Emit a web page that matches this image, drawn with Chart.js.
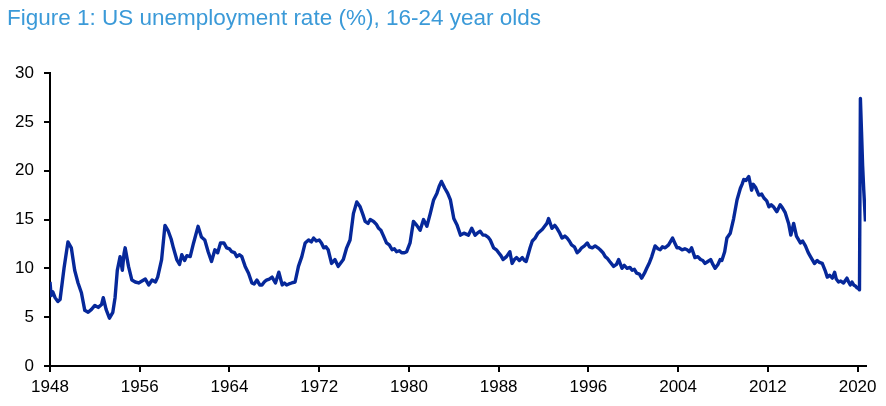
<!DOCTYPE html>
<html>
<head>
<meta charset="utf-8">
<script src="https://cdn.jsdelivr.net/npm/chart.js@4.4.1/dist/chart.umd.min.js"></script>
<style>
  html, body { margin: 0; padding: 0; background: #fff; }
  canvas { display: block; }
</style>
</head>
<body>
<canvas id="unemploymentChart" width="886" height="406"></canvas>
<script>
// Datos (año decimal, tasa %)
const years = [
  1948.0, 1948.1, 1948.25, 1948.45, 1948.7, 1948.9, 1949.25, 1949.6, 1949.9,
  1950.2, 1950.5, 1950.8, 1951.1, 1951.4, 1951.7, 1952.0, 1952.3, 1952.6, 1952.75,
  1953.0, 1953.3, 1953.6, 1953.8, 1954.0, 1954.25, 1954.45, 1954.6, 1954.7,
  1955.0, 1955.3, 1955.6, 1955.9, 1956.2, 1956.5, 1956.8, 1957.1, 1957.4, 1957.6, 1957.95,
  1958.25, 1958.55, 1958.8, 1959.0, 1959.3, 1959.55, 1959.75,
  1960.0, 1960.2, 1960.5, 1960.8, 1961.2, 1961.5, 1961.8, 1962.1, 1962.4, 1962.7, 1962.95,
  1963.2, 1963.5, 1963.75, 1964.0, 1964.2, 1964.45, 1964.65, 1964.9, 1965.1, 1965.4, 1965.7,
  1966.0, 1966.2, 1966.45, 1966.7, 1966.9, 1967.1, 1967.3, 1967.55, 1967.8,
  1968.1, 1968.4, 1968.7, 1968.9, 1969.1, 1969.3, 1969.55, 1969.85,
  1970.15, 1970.45, 1970.75, 1971.05, 1971.3, 1971.5, 1971.75,
  1972.0, 1972.2, 1972.4, 1972.6, 1972.8, 1973.1, 1973.4, 1973.7, 1973.95,
  1974.15, 1974.45, 1974.75, 1975.05, 1975.35, 1975.65, 1975.9,
  1976.1, 1976.35, 1976.55, 1976.85, 1977.1, 1977.3, 1977.5, 1977.7,
  1978.0, 1978.25, 1978.5, 1978.7, 1978.9, 1979.15, 1979.35, 1979.6, 1979.8,
  1980.1, 1980.4, 1980.55, 1980.7, 1981.0, 1981.3, 1981.6, 1981.9,
  1982.2, 1982.5, 1982.7, 1982.9, 1983.2, 1983.45, 1983.7,
  1984.0, 1984.3, 1984.6, 1984.9, 1985.1, 1985.3, 1985.6, 1985.9,
  1986.1, 1986.35, 1986.6, 1986.8, 1987.05, 1987.25, 1987.55, 1987.8,
  1988.0, 1988.2, 1988.4, 1988.7, 1989.0, 1989.2, 1989.4, 1989.6, 1989.85,
  1990.1, 1990.3, 1990.45, 1990.65, 1990.8, 1991.0, 1991.25, 1991.5, 1991.7, 1991.9,
  1992.1, 1992.3, 1992.45, 1992.75, 1993.0, 1993.2, 1993.45, 1993.65, 1993.9,
  1994.1, 1994.3, 1994.5, 1994.75, 1995.0, 1995.2, 1995.4, 1995.65, 1995.9,
  1996.1, 1996.35, 1996.6, 1996.85, 1997.05, 1997.3, 1997.5, 1997.7, 1997.9,
  1998.25, 1998.5, 1998.7, 1999.0, 1999.2, 1999.45, 1999.7, 1999.9,
  2000.1, 2000.3, 2000.55, 2000.75, 2001.0, 2001.2, 2001.45, 2001.65, 2001.95,
  2002.2, 2002.4, 2002.6, 2002.85, 2003.15, 2003.5, 2003.7, 2003.9,
  2004.1, 2004.35, 2004.6, 2004.8, 2005.0, 2005.2, 2005.5, 2005.75,
  2006.0, 2006.2, 2006.4, 2006.65, 2006.9, 2007.1, 2007.3, 2007.55, 2007.75, 2007.9,
  2008.15, 2008.35, 2008.65, 2008.95, 2009.25, 2009.55, 2009.7, 2009.85,
  2010.05, 2010.3, 2010.55, 2010.7, 2010.9, 2011.2, 2011.45, 2011.65, 2011.9,
  2012.1, 2012.3, 2012.5, 2012.8, 2013.1, 2013.3, 2013.55, 2013.85,
  2014.05, 2014.3, 2014.55, 2014.9, 2015.1, 2015.35, 2015.6, 2015.8,
  2016.15, 2016.4, 2016.6, 2016.85, 2017.1, 2017.3, 2017.5, 2017.75, 2017.95,
  2018.1, 2018.3, 2018.5, 2018.75, 2019.05, 2019.2, 2019.35, 2019.5, 2019.65, 2019.8, 2019.95,
  2020.1, 2020.17, 2020.25, 2020.35, 2020.45, 2020.55, 2020.7
];

const rates = [
  8.6, 7.2, 7.6, 7.0, 6.6, 6.8, 10.0, 12.7, 12.1,
  9.8, 8.5, 7.5, 5.7, 5.5, 5.8, 6.2, 6.0, 6.3, 7.0,
  5.8, 4.9, 5.5, 7.0, 9.8, 11.2, 9.8, 11.5, 12.1,
  10.2, 8.8, 8.6, 8.5, 8.7, 8.9, 8.3, 8.8, 8.6, 9.1, 10.9,
  14.4, 13.8, 13.0, 12.1, 10.9, 10.4, 11.4,
  10.8, 11.3, 11.2, 12.6, 14.3, 13.2, 12.9, 11.7, 10.7, 11.9, 11.6,
  12.6, 12.6, 12.1, 12.0, 11.7, 11.6, 11.2, 11.4, 11.2, 10.2, 9.5,
  8.5, 8.4, 8.8, 8.3, 8.3, 8.6, 8.8, 8.9, 9.1,
  8.5, 9.6, 8.3, 8.5, 8.3, 8.4, 8.5, 8.6,
  10.2, 11.2, 12.6, 12.9, 12.7, 13.1, 12.8,
  12.9, 12.6, 12.1, 12.2, 11.9, 10.5, 10.9, 10.2, 10.6,
  10.9, 12.1, 12.9, 15.6, 16.8, 16.3, 15.5,
  14.8, 14.6, 15.0, 14.8, 14.5, 14.1, 13.9, 13.4,
  12.6, 12.4, 11.9, 12.0, 11.7, 11.8, 11.6, 11.6, 11.7,
  12.6, 14.8, 14.6, 14.4, 13.9, 15.0, 14.3, 15.6,
  17.0, 17.7, 18.4, 18.9, 18.2, 17.7, 17.0,
  15.1, 14.4, 13.4, 13.6, 13.5, 13.4, 14.1, 13.4,
  13.6, 13.8, 13.4, 13.4, 13.2, 12.9, 12.1, 11.9,
  11.6, 11.3, 10.9, 11.2, 11.7, 10.5, 10.9, 11.1, 10.8,
  11.1, 10.8, 10.7, 11.5, 12.1, 12.8, 13.1, 13.6, 13.8, 14.0,
  14.3, 14.6, 15.1, 14.1, 14.4, 14.1, 13.6, 13.1, 13.3,
  13.1, 12.8, 12.4, 12.2, 11.6, 11.8, 12.1, 12.3, 12.6,
  12.2, 12.1, 12.3, 12.1, 11.9, 11.6, 11.2, 11.0, 10.7,
  10.2, 10.4, 10.9, 10.0, 10.3, 10.0, 10.1, 9.8,
  9.9, 9.5, 9.4, 9.0, 9.5, 10.0, 10.6, 11.2, 12.3,
  12.0, 11.9, 12.2, 12.1, 12.4, 13.1, 12.6, 12.1,
  12.1, 11.9, 12.0, 11.9, 11.7, 12.1, 11.1, 11.2,
  10.9, 10.8, 10.5, 10.7, 10.9, 10.4, 10.0, 10.4, 10.9, 10.8,
  11.7, 13.1, 13.6, 15.1, 17.0, 18.2, 18.6, 19.1,
  19.0, 19.4, 18.0, 18.6, 18.3, 17.5, 17.6, 17.2, 16.9,
  16.3, 16.5, 16.3, 15.8, 16.5, 16.2, 15.7, 14.6,
  13.4, 14.6, 13.3, 12.6, 12.8, 12.3, 11.6, 11.2,
  10.5, 10.8, 10.6, 10.5, 9.8, 9.1, 9.3, 9.0, 9.6,
  8.9, 8.6, 8.7, 8.5, 9.0, 8.6, 8.3, 8.6, 8.3, 8.2, 8.0,
  7.9, 7.8, 27.4, 24.0, 20.5, 18.0, 14.8
];

const xTicks = [1948, 1956, 1964, 1972, 1980, 1988, 1996, 2004, 2012, 2020];
const yTicks = [0, 5, 10, 15, 20, 25, 30];

const tituloGrafico = 'Figure 1: US unemployment rate (%), 16-24 year olds';

const labelFont = { family: "'Liberation Sans', Arial, sans-serif", size: 17 };

const ctx = document.getElementById('unemploymentChart');
new Chart(ctx, {
    type: 'line',
    data: {
        datasets: [{
            data: years.map((x, i) => ({ x: x, y: rates[i] })),
            borderColor: '#06289a',
            borderWidth: 3.4,
            borderJoinStyle: 'round',
            pointRadius: 0,
            tension: 0,
            fill: false
        }]
    },
    options: {
        responsive: false,
        animation: false,
        layout: {
            padding: { left: 7, right: 20, top: 0, bottom: 0 }
        },
        plugins: {
            legend: { display: false },
            tooltip: { enabled: false },
            title: {
                display: true,
                text: tituloGrafico,
                align: 'start',
                color: '#3b9ad8',
                font: { family: "'Liberation Sans', Arial, sans-serif", size: 22.5, weight: 'normal' },
                padding: { top: 5, bottom: 41 }
            }
        },
        scales: {
            x: {
                type: 'linear',
                min: 1948,
                max: 2020.75,
                afterBuildTicks: scale => {
                    scale.ticks = xTicks.map(v => ({ value: v }));
                },
                afterFit: scale => {
                    scale.height = 40;
                },
                grid: {
                    drawOnChartArea: false,
                    color: '#000',
                    lineWidth: 2,
                    tickLength: 6
                },
                border: { color: '#000', width: 2 },
                ticks: {
                    color: '#000',
                    font: labelFont,
                    padding: 5,
                    maxRotation: 0,
                    autoSkip: false,
                    callback: v => String(v)
                }
            },
            y: {
                min: 0,
                max: 30,
                afterBuildTicks: scale => {
                    scale.ticks = yTicks.map(v => ({ value: v }));
                },
                afterFit: scale => {
                    scale.width = 43;
                },
                grid: {
                    drawOnChartArea: false,
                    color: '#000',
                    lineWidth: 2,
                    tickLength: 6
                },
                border: { color: '#000', width: 2 },
                ticks: {
                    color: '#000',
                    font: labelFont,
                    padding: 10,
                    callback: v => String(v)
                }
            }
        }
    }
});
</script>
</body>
</html>
